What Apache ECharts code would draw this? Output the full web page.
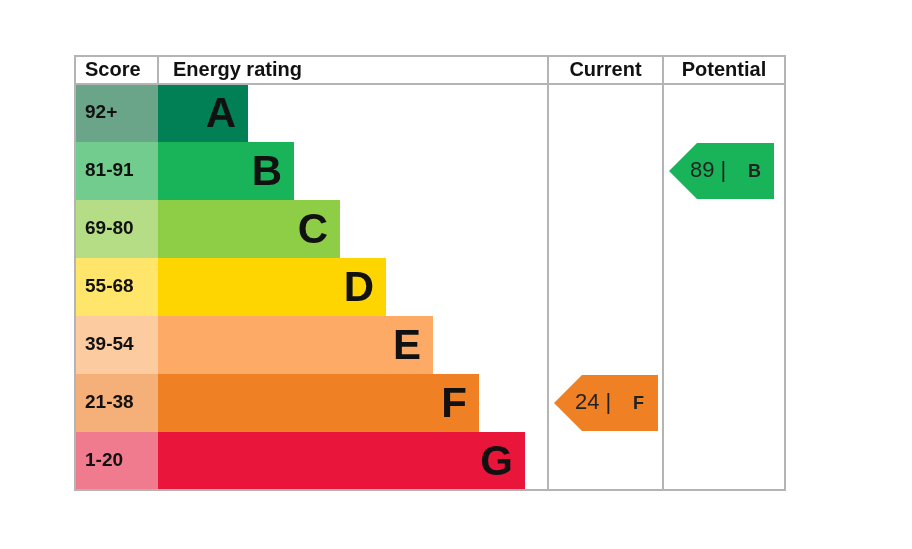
<!DOCTYPE html>
<html><head><meta charset="utf-8">
<script src="https://cdn.jsdelivr.net/npm/echarts@6/dist/echarts.min.js"></script>
<style>html,body{margin:0;padding:0;background:#fff}#c{width:912px;height:549px}</style>
</head><body><div id="c"></div>
<script>
const letters = ['A','B','C','D','E','F','G'];
const scores = ['92+','81-91','69-80','55-68','39-54','21-38','1-20'];
const barLengths = [90,136,182,228,275,321,367];
const barColors = ['#008054','#19b459','#8dce46','#ffd500','#fcaa65','#ef8023','#e9153b'];
const scoreColors = ['#6aa58a','#72cc8d','#b4dd86','#ffe66b','#fdcba0','#f5b07a','#f07a8e'];
const headers = ['Score','Energy rating','Current','Potential'];
const current = {value:24, band:5};
const potential = {value:89, band:1};

const F = 'Liberation Sans, Arial, sans-serif';
const colX = [0,83,473,588,710];
const headH = 28, rowH = 58;
const chart = echarts.init(document.getElementById('c'));

function renderItem(params, api){
  const ch = [];
  const P = (x,y)=>api.coord([x,y]);
  const line = '#b4b4b4';
  // rows
  for(let i=0;i<letters.length;i++){
    const y0=headH+i*rowH, y1=y0+rowH;
    let a=P(colX[0],y0), b=P(colX[1],y1);
    ch.push({type:'rect',shape:{x:a[0],y:a[1],width:b[0]-a[0],height:b[1]-a[1]},style:{fill:scoreColors[i]}});
    ch.push({type:'text',style:{x:a[0]+10,y:(a[1]+b[1])/2,text:scores[i],font:'bold 19px '+F,fill:'#111',verticalAlign:'middle'}});
    a=P(colX[1],y0); b=P(colX[1]+barLengths[i],y1);
    ch.push({type:'rect',shape:{x:a[0],y:a[1],width:b[0]-a[0],height:b[1]-a[1]},style:{fill:barColors[i]}});
    ch.push({type:'text',style:{x:b[0]-12,y:(a[1]+b[1])/2+2,text:letters[i],font:'bold 42px '+F,fill:'#111',align:'right',verticalAlign:'middle'}});
  }
  // arrows
  [[current,2,colX[2]+6,colX[3]-5],[potential,3,colX[3]+6,colX[4]-11]].forEach(([r,c,x0,x1])=>{
    const y0=headH+r.band*rowH+1, y1=y0+rowH-2;
    const a=P(x0,y0), b=P(x1,y1), m=(a[1]+b[1])/2;
    ch.push({type:'polygon',shape:{points:[[a[0],m],[a[0]+28,a[1]],[b[0],a[1]],[b[0],b[1]],[a[0]+28,b[1]]]},style:{fill:barColors[r.band]}});
    ch.push({type:'text',style:{x:a[0]+21,y:m,text:r.value+' |',font:'22px '+F,fill:'#222',verticalAlign:'middle'}});
    ch.push({type:'text',style:{x:a[0]+79,y:m+1,text:letters[r.band],font:'bold 18px '+F,fill:'#222',verticalAlign:'middle'}});
  });
  // grid lines
  const top=P(0,0), bot=P(710,headH+7*rowH);
  ch.push({type:'rect',shape:{x:top[0],y:top[1],width:bot[0]-top[0],height:bot[1]-top[1]},style:{fill:null,stroke:line,lineWidth:2}});
  const hy=P(0,headH)[1];
  ch.push({type:'line',shape:{x1:top[0],y1:hy,x2:bot[0],y2:hy},style:{stroke:line,lineWidth:2}});
  [1,2,3].forEach(k=>{
    const x=P(colX[k],0)[0];
    ch.push({type:'line',shape:{x1:x,y1:top[1],x2:x,y2:k===1?hy:bot[1]},style:{stroke:line,lineWidth:2}});
  });
  const hx=[10,15,0,0];
  headers.forEach((h,k)=>{
    const x0=P(colX[k],0)[0], x1=P(colX[k+1],0)[0];
    const cen = k>=2;
    ch.push({type:'text',style:{x:cen?(x0+x1)/2:x0+hx[k],y:(top[1]+hy)/2,text:h,font:'bold 20px '+F,fill:'#111',align:cen?'center':'left',verticalAlign:'middle'}});
  });
  return {type:'group',children:ch};
}

chart.setOption({
  animation:false,
  grid:{left:75,top:56,width:710,height:434},
  xAxis:{type:'value',min:0,max:710,show:false},
  yAxis:{type:'value',min:0,max:434,inverse:true,show:false},
  series:[{type:'custom',renderItem,data:[[0,0]],clip:false}]
});
</script></body></html>
